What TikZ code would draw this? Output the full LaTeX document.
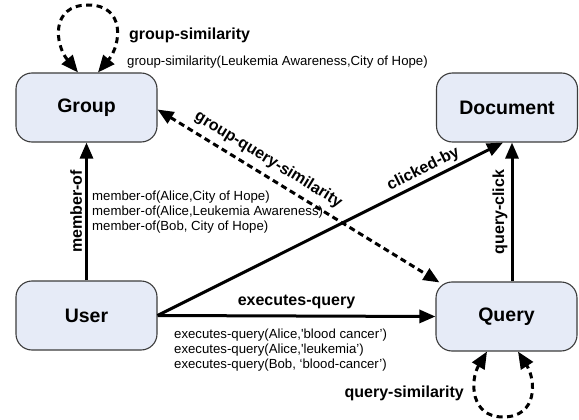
\documentclass[tikz,border=0pt]{standalone}
\usepackage{fontspec}
\setmainfont{Liberation Sans}
\usetikzlibrary{arrows.meta}
\definecolor{boxfill}{RGB}{230,235,247}
\definecolor{boxline}{RGB}{60,60,60}
\begin{document}
\begin{tikzpicture}[x=1pt,y=-1pt,
  entity/.style={draw=boxline, line width=1.1pt, fill=boxfill, rounded corners=16pt,
    minimum width=141pt, minimum height=69pt, inner sep=0pt,
    font=\fontsize{19.5}{22}\selectfont\bfseries},
  rel/.style={line width=3pt, -{Triangle[length=16pt,width=13pt]}},
  simrel/.style={line width=3pt, dash pattern=on 6pt off 4pt,
    {Triangle[length=16pt,width=13pt]}-{Triangle[length=16pt,width=13pt]}},
  selfloop/.style={line width=3pt, dash pattern=on 6pt off 4.5pt,
    {Triangle[length=17pt,width=14pt]}-{Triangle[length=17pt,width=14pt]}},
  lbl/.style={font=\fontsize{16}{18}\selectfont\bfseries, inner sep=2pt},
  fact/.style={font=\fontsize{13.2}{15}\selectfont, align=left, inner sep=0pt},
]
\useasboundingbox (0,0) rectangle (579,420);

% entities
\node[entity] (g) at (86.5,107.5) {Group};
\node[entity] (d) at (507,107.5) {Document};
\node[entity] (u) at (86.5,315.5) {User};
\node[entity] (q) at (506.5,316.5) {Query};

% relations between entities
\draw[rel] (u.north) -- node[lbl, rotate=90, above=1pt] (mo) {member-of} (g.south);
\draw[rel] (u.east) -- node[lbl, above=4pt] (eq) {executes-query} (q.west);
\draw[rel] (u.east) -- node[lbl, pos=0.785, sloped, above=1pt] (cb) {clicked-by} ([xshift=-4pt]d.south);
\draw[rel] ([xshift=5.5pt]q.north) -- node[lbl, rotate=90, above=1pt] (qc) {query-click} ([xshift=5pt]d.south);
\draw[simrel] ([yshift=-2pt]g.east) -- node[lbl, pos=0.365, sloped, above=4pt] (gq) {group-query-similarity} ([shift={(4,1)}]q.north west);

% self similarities
\draw[selfloop] ([xshift=-8.5pt]g.north) .. controls (55,45) and (50,5) .. (88,5)
  .. controls (126,5) and (121,45) .. ([xshift=11.5pt]g.north);
\draw[selfloop] ([xshift=-19.5pt]q.south) .. controls (470,380) and (470,417) .. (503,417)
  .. controls (538,417) and (536,380) .. ([xshift=11.5pt]q.south);

\node[lbl, anchor=west, inner sep=0pt] (gs) at (129,35) {group-similarity};
\node[fact, anchor=west] (gsf) at (127,62) {group-similarity(Leukemia Awareness,City of Hope)};
\node[lbl, anchor=east, inner sep=0pt] (qs) at (464,393) {query-similarity};

% example facts
\node[fact, anchor=west] (mof) at (92,212) {member-of(Alice,City of Hope)\\member-of(Alice,Leukemia Awareness)\\member-of(Bob, City of Hope)};
\node[fact, anchor=west] (eqf) at (174,350) {executes-query(Alice,\textquotesingle blood cancer')\\executes-query(Alice,\textquotesingle leukemia')\\executes-query(Bob, `blood-cancer')};
\end{tikzpicture}
\end{document}
